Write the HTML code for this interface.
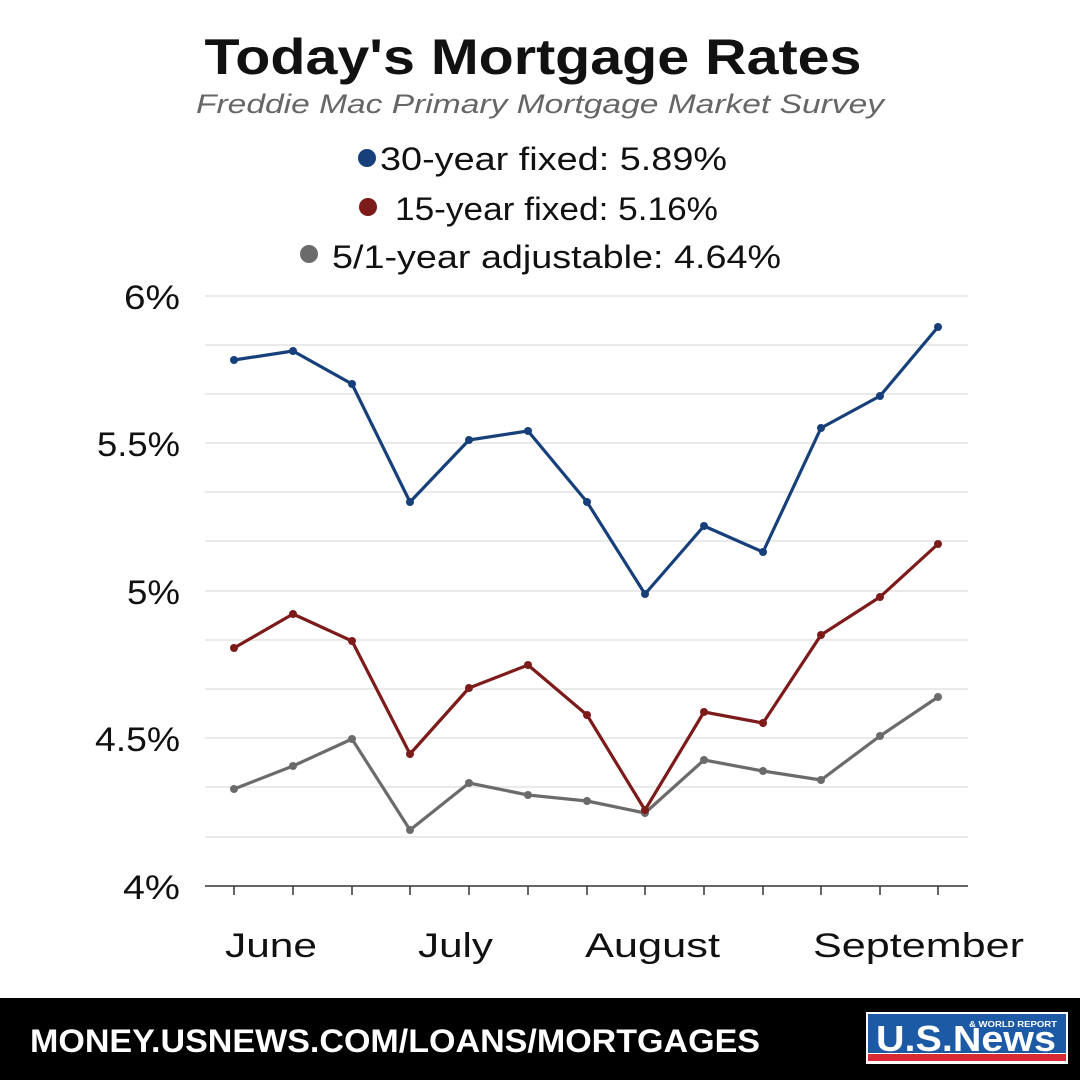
<!DOCTYPE html>
<html><head><meta charset="utf-8"><style>
html,body{margin:0;padding:0;background:#fff}
svg{display:block}
text{font-family:"Liberation Sans",sans-serif}
</style></head><body>
<svg width="1080" height="1080" viewBox="0 0 1080 1080" xmlns="http://www.w3.org/2000/svg">
<rect width="1080" height="1080" fill="#fff"/>
<text x="533" y="74" text-anchor="middle" font-size="50" font-weight="bold" fill="#111" textLength="657" lengthAdjust="spacingAndGlyphs">Today's Mortgage Rates</text>
<text x="540" y="113" text-anchor="middle" font-size="27" font-style="italic" fill="#666" textLength="688" lengthAdjust="spacingAndGlyphs">Freddie Mac Primary Mortgage Market Survey</text>
<circle cx="367" cy="158" r="9" fill="#173f7a"/>
<text x="380" y="170" font-size="32" fill="#111" textLength="347" lengthAdjust="spacingAndGlyphs">30-year fixed: 5.89%</text>
<circle cx="368" cy="207" r="9" fill="#7d1a1a"/>
<text x="395" y="220" font-size="32" fill="#111" textLength="323" lengthAdjust="spacingAndGlyphs">15-year fixed: 5.16%</text>
<circle cx="309" cy="254" r="9" fill="#6b6b6b"/>
<text x="332" y="268" font-size="32" fill="#111" textLength="449" lengthAdjust="spacingAndGlyphs">5/1-year adjustable: 4.64%</text>
<g stroke="#e3e3e3" stroke-width="1.5">
<line x1="205" y1="296" x2="968" y2="296"/><line x1="205" y1="345" x2="968" y2="345"/><line x1="205" y1="394" x2="968" y2="394"/><line x1="205" y1="443" x2="968" y2="443"/><line x1="205" y1="492" x2="968" y2="492"/><line x1="205" y1="541" x2="968" y2="541"/><line x1="205" y1="591" x2="968" y2="591"/><line x1="205" y1="640" x2="968" y2="640"/><line x1="205" y1="689" x2="968" y2="689"/><line x1="205" y1="738" x2="968" y2="738"/><line x1="205" y1="787" x2="968" y2="787"/><line x1="205" y1="837" x2="968" y2="837"/>
</g>
<line x1="205" y1="886" x2="968" y2="886" stroke="#333" stroke-width="1.5"/>
<g stroke="#333" stroke-width="1.5">
<line x1="234" y1="886" x2="234" y2="895"/><line x1="293" y1="886" x2="293" y2="895"/><line x1="352" y1="886" x2="352" y2="895"/><line x1="410" y1="886" x2="410" y2="895"/><line x1="469" y1="886" x2="469" y2="895"/><line x1="528" y1="886" x2="528" y2="895"/><line x1="587" y1="886" x2="587" y2="895"/><line x1="645" y1="886" x2="645" y2="895"/><line x1="704" y1="886" x2="704" y2="895"/><line x1="763" y1="886" x2="763" y2="895"/><line x1="821" y1="886" x2="821" y2="895"/><line x1="880" y1="886" x2="880" y2="895"/><line x1="938" y1="886" x2="938" y2="895"/>
</g>
<g font-size="34" fill="#111">
<text x="124" y="309" textLength="56" lengthAdjust="spacingAndGlyphs">6%</text>
<text x="97" y="456" textLength="83" lengthAdjust="spacingAndGlyphs">5.5%</text>
<text x="127" y="604" textLength="53" lengthAdjust="spacingAndGlyphs">5%</text>
<text x="95" y="751" textLength="85" lengthAdjust="spacingAndGlyphs">4.5%</text>
<text x="123" y="899" textLength="57" lengthAdjust="spacingAndGlyphs">4%</text>
</g>
<g font-size="34" fill="#111">
<text x="225" y="957" textLength="92" lengthAdjust="spacingAndGlyphs">June</text>
<text x="418" y="957" textLength="75" lengthAdjust="spacingAndGlyphs">July</text>
<text x="585" y="957" textLength="135" lengthAdjust="spacingAndGlyphs">August</text>
<text x="813" y="957" textLength="211" lengthAdjust="spacingAndGlyphs">September</text>
</g>
<polyline fill="none" stroke="#6b6b6b" stroke-width="3.2" stroke-linejoin="round" points="234,789 293,766 352,739 410,830 469,783 528,795 587,801 645,813 704,760 763,771 821,780 880,736 938,697"/>
<polyline fill="none" stroke="#7d1a1a" stroke-width="3.2" stroke-linejoin="round" points="234,648 293,614 352,641 410,754 469,688 528,665 587,715 645,810 704,712 763,723 821,635 880,597 938,544"/>
<polyline fill="none" stroke="#173f7a" stroke-width="3.2" stroke-linejoin="round" points="234,360 293,351 352,384 410,502 469,440 528,431 587,502 645,594 704,526 763,552 821,428 880,396 938,327"/>
<g fill="#6b6b6b"><circle cx="234" cy="789" r="4"/><circle cx="293" cy="766" r="4"/><circle cx="352" cy="739" r="4"/><circle cx="410" cy="830" r="4"/><circle cx="469" cy="783" r="4"/><circle cx="528" cy="795" r="4"/><circle cx="587" cy="801" r="4"/><circle cx="645" cy="813" r="4"/><circle cx="704" cy="760" r="4"/><circle cx="763" cy="771" r="4"/><circle cx="821" cy="780" r="4"/><circle cx="880" cy="736" r="4"/><circle cx="938" cy="697" r="4"/></g>
<g fill="#7d1a1a"><circle cx="234" cy="648" r="4"/><circle cx="293" cy="614" r="4"/><circle cx="352" cy="641" r="4"/><circle cx="410" cy="754" r="4"/><circle cx="469" cy="688" r="4"/><circle cx="528" cy="665" r="4"/><circle cx="587" cy="715" r="4"/><circle cx="645" cy="810" r="4"/><circle cx="704" cy="712" r="4"/><circle cx="763" cy="723" r="4"/><circle cx="821" cy="635" r="4"/><circle cx="880" cy="597" r="4"/><circle cx="938" cy="544" r="4"/></g>
<g fill="#173f7a"><circle cx="234" cy="360" r="4"/><circle cx="293" cy="351" r="4"/><circle cx="352" cy="384" r="4"/><circle cx="410" cy="502" r="4"/><circle cx="469" cy="440" r="4"/><circle cx="528" cy="431" r="4"/><circle cx="587" cy="502" r="4"/><circle cx="645" cy="594" r="4"/><circle cx="704" cy="526" r="4"/><circle cx="763" cy="552" r="4"/><circle cx="821" cy="428" r="4"/><circle cx="880" cy="396" r="4"/><circle cx="938" cy="327" r="4"/></g>
<rect x="0" y="998" width="1080" height="82" fill="#000"/>
<text x="30" y="1052" font-size="32" font-weight="bold" fill="#fff" textLength="730" lengthAdjust="spacingAndGlyphs">MONEY.USNEWS.COM/LOANS/MORTGAGES</text>
<rect x="866" y="1012" width="202" height="52" fill="#fff"/>
<rect x="868" y="1014" width="198" height="39" fill="#1c5aa6"/>
<rect x="868" y="1054" width="198" height="7" fill="#d62a35"/>
<text x="876" y="1051" font-size="36" font-weight="bold" fill="#fff" textLength="180" lengthAdjust="spacingAndGlyphs">U.S.News</text>
<rect x="968" y="1019" width="92" height="9" fill="#1c5aa6"/>
<text x="969" y="1027" font-size="8" font-weight="bold" fill="#fff" textLength="88" lengthAdjust="spacingAndGlyphs">&amp; WORLD REPORT</text>
</svg>
</body></html>
